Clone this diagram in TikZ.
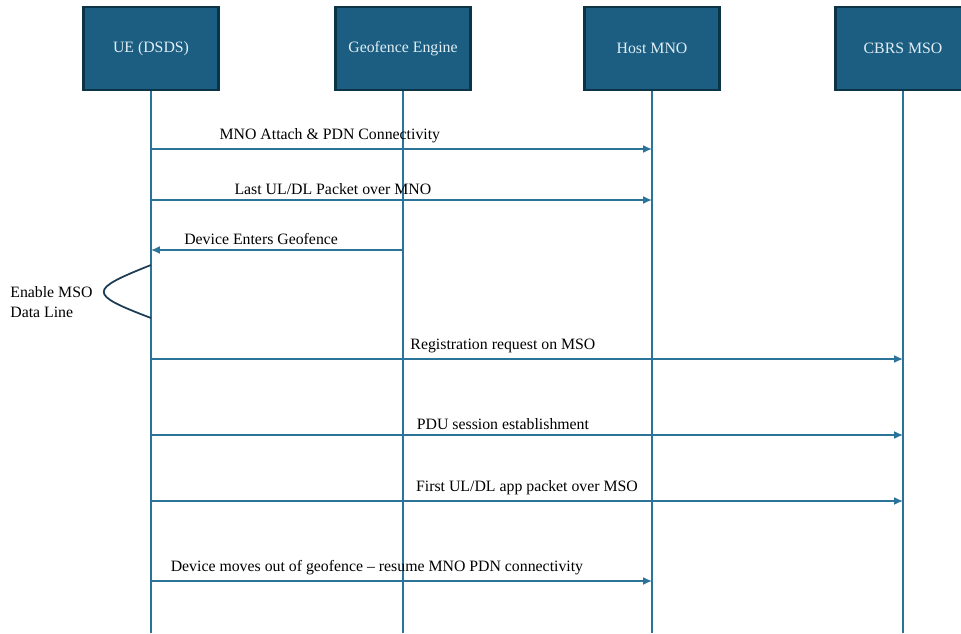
\documentclass[tikz,border=0pt]{standalone}
\usepackage{fontspec}
\setmainfont{Liberation Serif}
\usepackage{xcolor}
\usepackage{tikz}
\usetikzlibrary{arrows.meta, positioning}

\definecolor{boxfill}{HTML}{1B5E82}
\definecolor{boxline}{HTML}{0C3447}
\definecolor{boxtext}{HTML}{E2EEF5}
\definecolor{lifeblue}{HTML}{2B7398}
\definecolor{curvenavy}{HTML}{1D3B52}

\begin{document}
\begin{tikzpicture}[x=0.02cm, y=-0.02cm]
\tikzstyle{actor} = [rectangle, draw=boxline, line width=1.2pt, fill=boxfill, text=boxtext, minimum width=2.7cm, minimum height=1.66cm, font=\fontsize{9}{11}\selectfont]
\tikzstyle{life} = [lifeblue, line width=1pt]
\tikzstyle{msg} = [lifeblue, line width=0.9pt, -{Latex[length=5pt, width=4.5pt]}]
\tikzstyle{lbl} = [above, inner sep=0pt, yshift=2.8pt, text=black, font=\fontsize{9}{11}\selectfont]

\useasboundingbox (0,0) rectangle (961,633);

% participants
\node (ue) [actor] at (151,48.5) {UE (DSDS)};
\node (geo) [actor] at (403,48.5) {Geofence Engine};
\node (mno) [actor] at (652,48.5) {Host MNO};
\node (mso) [actor] at (903,48.5) {CBRS MSO};

% lifelines
\coordinate (bottom) at (0,633);
\draw [life] (ue.south) -- (ue |- bottom);
\draw [life] (geo.south) -- (geo |- bottom);
\draw [life] (mno.south) -- (mno |- bottom);
\draw [life] (mso.south) -- (mso |- bottom);

% message rows
\coordinate (m1) at (0,149);
\coordinate (m2) at (0,200);
\coordinate (m3) at (0,250);
\coordinate (m5) at (0,359);
\coordinate (m6) at (0,435);
\coordinate (m7) at (0,501);
\coordinate (m8) at (0,581);

\draw [msg] (ue |- m1) -- node[lbl, pos=0.357] {MNO Attach \& PDN Connectivity} (mno |- m1);
\draw [msg] (ue |- m2) -- node[lbl, pos=0.363] {Last UL/DL Packet over MNO} (mno |- m2);
\draw [msg] (geo |- m3) -- node[lbl, pos=0.563] {Device Enters Geofence} (ue |- m3);

% self step on the UE
\coordinate (s1) at (151,265);
\coordinate (s2) at (151,318);
\draw [curvenavy, line width=1pt] (s1) .. controls (88,290) and (88,294) .. (s2);
\node (enable) [align=left, inner sep=0pt, anchor=west, font=\fontsize{9}{11}\selectfont] at (10,302) {Enable MSO\\Data Line};

\draw [msg] (ue |- m5) -- node[lbl, pos=0.468] {Registration request on MSO} (mso |- m5);
\draw [msg] (ue |- m6) -- node[lbl, pos=0.468] {PDU session establishment} (mso |- m6);
\draw [msg] (ue |- m7) -- node[lbl, pos=0.5] {First UL/DL app packet over MSO} (mso |- m7);
\draw [msg] (ue |- m8) -- node[lbl, pos=0.451] {Device moves out of geofence -- resume MNO PDN connectivity} (mno |- m8);
\end{tikzpicture}
\end{document}
